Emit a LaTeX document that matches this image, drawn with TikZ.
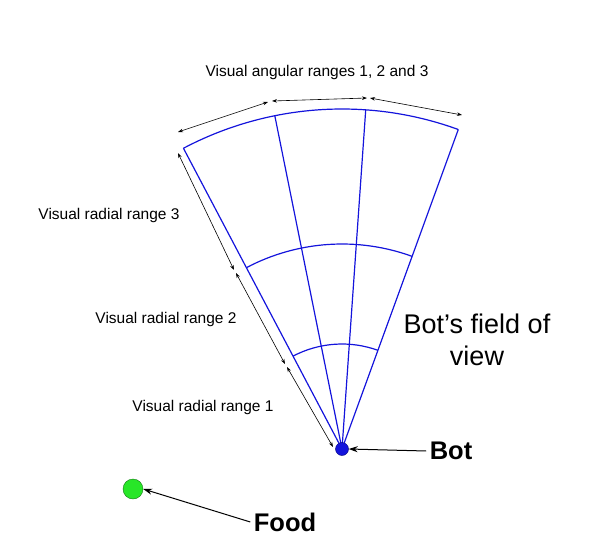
\documentclass[tikz,border=0pt]{standalone}
\usepackage{fontspec}
\setmainfont{Liberation Sans}
\usetikzlibrary{arrows.meta}
\begin{document}
\begin{tikzpicture}[x=1pt,y=-1pt,
  fan/.style={draw={rgb,255:red,20;green,20;blue,220},line width=1.2pt},
  dim/.style={draw=black,line width=0.6pt,{Stealth[length=5pt,width=3.5pt]}-{Stealth[length=5pt,width=3.5pt]}},
  ptr/.style={draw=black,line width=1pt,-{Stealth[length=9pt,width=6pt]}},
  lbl/.style={font=\fontsize{15.5}{18}\selectfont},
  big/.style={font=\fontsize{27}{32}\selectfont,align=center}]
\useasboundingbox (0,0) rectangle (606,560);
\coordinate (B) at (342,449);
% fan radial lines
\foreach \a in {117.8,101.4,86,70}{
  \draw[fan] (B) -- ++({340*cos(\a)},{-340*sin(\a)});
}
% arcs
\foreach \r in {340,205,105}{
  \draw[fan] (B) ++({\r*cos(117.8)},{-\r*sin(117.8)}) arc[start angle=-117.8,end angle=-70,radius=\r];
}
% radial dims
\coordinate (r0) at (178,153); \coordinate (r1) at (234,270);
\coordinate (r2) at (236,273); \coordinate (r3) at (285,364);
\coordinate (r4) at (287,367); \coordinate (r5) at (333,447);
\draw[dim] (r0) -- (r1);
\draw[dim] (r2) -- (r3);
\draw[dim] (r4) -- (r5);
% angular dims
\coordinate (a0) at (178,132); \coordinate (a1) at (268,102);
\coordinate (a2) at (272,101); \coordinate (a3) at (367,98);
\coordinate (a4) at (370,98); \coordinate (a5) at (462,115);
\draw[dim] (a0) -- (a1);
\draw[dim] (a2) -- (a3);
\draw[dim] (a4) -- (a5);
% labels
\node[lbl] (la) at (317,72) {Visual angular ranges 1, 2 and 3};
\node[lbl] (l3) at (109,215) {Visual radial range 3};
\node[lbl] (l2) at (166,319) {Visual radial range 2};
\node[lbl] (l1) at (203,407) {Visual radial range 1};
\node[big] (fov) at (477,340) {Bot’s field of\\view};
% bot and food
\node[circle,fill={rgb,255:red,20;green,20;blue,220},draw={rgb,255:red,0;green,0;blue,120},minimum size=13pt,inner sep=0pt] (bot) at (B) {};
\node[circle,fill={rgb,255:red,40;green,230;blue,40},draw={rgb,255:red,20;green,120;blue,20},minimum size=20pt,inner sep=0pt] (food) at (133,489) {};
\node[font=\fontsize{25.5}{30}\selectfont\bfseries] (botl) at (451,451) {Bot};
\node[font=\fontsize{25.5}{30}\selectfont\bfseries] (foodl) at (285,522) {Food};
\draw[ptr] (botl.west) -- (bot.east);
\draw[ptr] (foodl.west) -- (food.east);
\end{tikzpicture}
\end{document}
